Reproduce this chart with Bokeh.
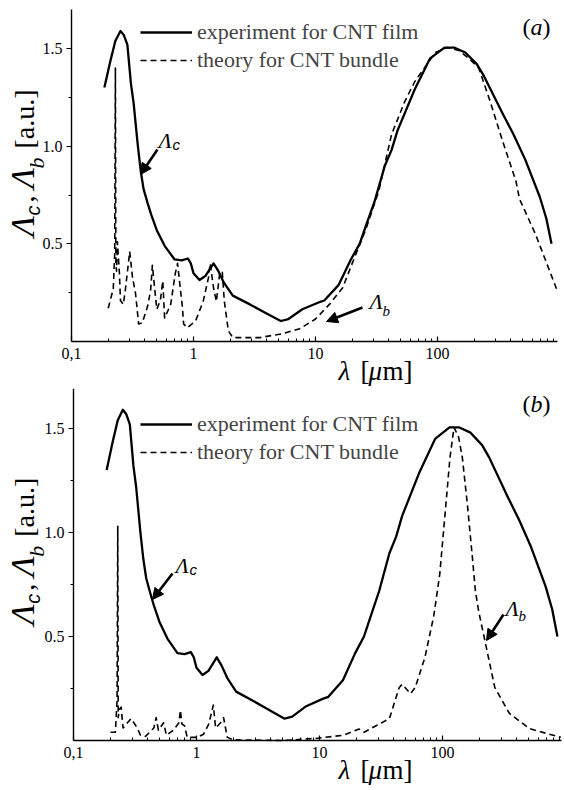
import math
from bokeh.plotting import figure
from bokeh.models import (Range1d, FixedTicker, CustomJSTickFormatter, Label, Arrow,
                          NormalHead, Legend, LegendItem)
from bokeh.layouts import column
from bokeh.embed import file_html
from bokeh.resources import INLINE

# ---------------- data ----------------
exp_x = [0.186, 0.209, 0.229, 0.252, 0.268, 0.287, 0.307, 0.323, 0.35, 0.37, 0.39, 0.42,
         0.45, 0.5, 0.58, 0.7, 0.8, 0.9, 0.95, 1.0, 1.12, 1.25, 1.46, 1.6, 1.78, 2.1,
         2.9, 3.8, 5.2, 6.0, 7.8, 10.6, 11.8, 15.5, 19.5, 23, 25.5, 30.6, 37, 42, 47,
         65, 87, 114, 137, 169, 210, 240, 340, 420, 525, 690, 780, 860]
exp_y = [1.30, 1.44, 1.54, 1.59, 1.57, 1.52, 1.32, 1.22, 1.0, 0.87, 0.78, 0.71,
         0.65, 0.57, 0.49, 0.42, 0.415, 0.425, 0.40, 0.35, 0.315, 0.335, 0.40, 0.36, 0.30, 0.235,
         0.19, 0.15, 0.105, 0.115, 0.165, 0.20, 0.21, 0.29, 0.42, 0.50, 0.58, 0.72, 0.90, 0.98, 1.08,
         1.29, 1.45, 1.505, 1.505, 1.48, 1.42, 1.36, 1.17, 1.06, 0.93, 0.74, 0.63, 0.50]

theory_a_x = [0.20, 0.22, 0.226, 0.229, 0.231, 0.234, 0.238, 0.247, 0.252, 0.266, 0.277, 0.30,
              0.316, 0.335, 0.355, 0.38, 0.42, 0.445, 0.46, 0.48, 0.50, 0.535, 0.56, 0.58,
              0.65, 0.71, 0.74, 0.78, 0.81, 0.83, 0.89, 1.04, 1.2, 1.33, 1.37, 1.46, 1.54,
              1.64, 1.72, 1.79, 1.93, 2.1, 3.5, 5.35, 7.4, 10, 13, 16.7, 20, 25.7, 33, 42,
              54, 65, 96, 120, 150, 180, 218, 270, 340, 440, 470, 635, 945]
theory_a_y = [0.17, 0.27, 0.45, 1.40, 0.40, 0.36, 0.51, 0.35, 0.21, 0.19, 0.27, 0.46,
              0.33, 0.245, 0.09, 0.095, 0.18, 0.26, 0.39, 0.275, 0.165, 0.21, 0.31, 0.12,
              0.19, 0.35, 0.40, 0.27, 0.18, 0.09, 0.07, 0.105, 0.205, 0.33, 0.40, 0.275, 0.205,
              0.35, 0.36, 0.205, 0.055, 0.02, 0.02, 0.04, 0.065, 0.115, 0.19, 0.275, 0.40, 0.57, 0.77, 1.06,
              1.23, 1.33, 1.48, 1.505, 1.49, 1.45, 1.40, 1.23, 1.03, 0.82, 0.73, 0.55, 0.27]

theory_b_x = [0.20, 0.219, 0.226, 0.229, 0.231, 0.236, 0.244, 0.253, 0.27, 0.294, 0.31, 0.33,
              0.35, 0.385, 0.45, 0.47, 0.49, 0.54, 0.57, 0.65, 0.72, 0.74, 0.76, 0.80, 0.84,
              1.01, 1.14, 1.26, 1.37, 1.43, 1.57, 1.66, 1.78, 2.0, 5.0, 9.3, 15.5, 21, 23,
              37, 44.5, 47, 55, 60, 72, 85, 95, 106, 115, 124, 135, 145, 159, 175, 185, 197,
              223, 266, 350, 510, 915]
theory_b_y = [0.04, 0.04, 0.19, 1.03, 0.11, 0.15, 0.16, 0.06, 0.08, 0.105, 0.085, 0.06,
              0.025, 0.02, 0.06, 0.11, 0.05, 0.085, 0.025, 0.05, 0.085, 0.145, 0.08, 0.07, 0.015,
              0.015, 0.03, 0.08, 0.17, 0.06, 0.085, 0.11, 0.015, 0.003, 0.0, 0.01, 0.025, 0.055, 0.04,
              0.105, 0.255, 0.27, 0.225, 0.255, 0.40, 0.60, 0.80, 1.12, 1.36, 1.505, 1.46, 1.36, 1.14, 0.88, 0.72, 0.62,
              0.47, 0.255, 0.13, 0.057, 0.015]

x_major = [0.1, 1, 10, 100]
x_minor = [m * d for d in (0.1, 1, 10, 100) for m in range(2, 10)]
y_major = [0.5, 1.0, 1.5]
y_minor = [0.25, 0.75, 1.25]
y_bounds = (0.0, 1.7)
legend_labels = ["experiment for CNT film", "theory for CNT bundle"]

SERIF = "Liberation Serif, Times New Roman, serif"
SANS = "Liberation Sans, Arial, sans-serif"
W = 564
MID = 0.32  # distance from baseline to the text's middle, in em


def make_panel(th_x, th_y, tag, canvas_top, height, x01_px, ppd, y0_px, ppu, x_hi, leg_top):
    """Layout in page pixels: x01_px = page x of 0.1, ppd = px per decade,
    y0_px = page y of zero, ppu = px per unit."""
    x_start = 0.1 * 10 ** (-x01_px / ppd)
    x_end = 0.1 * 10 ** ((W - x01_px) / ppd)
    y0_local = y0_px - canvas_top
    y_end = y0_local / ppu
    y_start = -(height - y0_local) / ppu

    p = figure(width=W, height=height, x_axis_type="log",
               x_range=Range1d(x_start, x_end), y_range=Range1d(y_start, y_end),
               output_backend="svg", toolbar_location=None, min_border=0)
    p.outline_line_color = None
    p.grid.visible = False
    p.background_fill_color = "white"
    p.border_fill_color = "white"

    xa = p.xaxis[0]
    xa.fixed_location = 0.0
    xa.bounds = (0.1, x_hi)
    xa.ticker = FixedTicker(ticks=x_major, minor_ticks=x_minor)
    xa.formatter = CustomJSTickFormatter(code="return tick < 0.5 ? '0,1' : tick.toFixed(0);")
    xa.major_tick_in = 5
    xa.major_tick_out = 0
    xa.minor_tick_in = 3
    xa.minor_tick_out = 0
    xa.major_label_standoff = 6
    ya = p.yaxis[0]
    ya.fixed_location = 0.1
    ya.bounds = y_bounds
    ya.ticker = FixedTicker(ticks=y_major, minor_ticks=y_minor)
    ya.formatter = CustomJSTickFormatter(code="return tick.toFixed(1);")
    ya.major_tick_in = 0
    ya.major_tick_out = 5
    ya.minor_tick_in = 0
    ya.minor_tick_out = 3
    ya.major_label_standoff = 4
    for ax in (xa, ya):
        ax.axis_line_color = "black"
        ax.axis_line_width = 1.4
        ax.major_tick_line_color = "black"
        ax.minor_tick_line_color = "black"
        ax.major_tick_line_width = 1.2
        ax.minor_tick_line_width = 1
        ax.major_label_text_font = SERIF
        ax.major_label_text_font_size = "16px"
        ax.major_label_text_color = "black"

    r1 = p.line(exp_x, exp_y, line_color="black", line_width=2.3, line_join="round")
    r2 = p.line(th_x, th_y, line_color="black", line_width=1.6, line_dash="6 4",
                line_join="round")

    cb = canvas_top + height  # page y of canvas bottom

    def sx(px):
        return px

    def sy(py):
        return cb - py

    leg = Legend(items=[LegendItem(label=legend_labels[0], renderers=[r1]),
                        LegendItem(label=legend_labels[1], renderers=[r2])],
                 location=(sx(140), sy(leg_top + 56)),
                 orientation="vertical", padding=0, margin=0, spacing=0,
                 glyph_width=52, glyph_height=28, label_height=28, label_standoff=5,
                 label_text_font=SERIF, label_text_font_size="22px",
                 border_line_color=None, background_fill_alpha=0)
    p.add_layout(leg)

    def txt(s, px, py, size, font=SERIF, style="normal", rotated=False):
        # (px, py) is the start of the baseline in page pixels
        if rotated:
            ax_, ay_ = px - MID * size, py
        else:
            ax_, ay_ = px, py - MID * size
        p.add_layout(Label(x=sx(ax_), y=sy(ay_), x_units="screen", y_units="screen", text=s,
                           text_font=font, text_font_size=f"{size}px", text_font_style=style,
                           text_color="black", text_align="left", text_baseline="middle",
                           angle=(math.pi / 2 if rotated else 0.0), angle_units="rad"))

    # y-axis label (rotated, reads upwards), slightly above the data-area centre
    s0 = y0_px - 0.5 * 1.7 * ppu + 61  # page y where the label starts
    txt("Λ", 33, s0, 34, style="italic", rotated=True)
    txt("c", 39, s0 - 21, 20, font=SANS, style="italic", rotated=True)
    txt(",", 33, s0 - 34, 28, rotated=True)
    txt("Λ", 33, s0 - 48, 34, style="italic", rotated=True)
    txt("b", 43, s0 - 68, 22, style="italic", rotated=True)
    txt("[a.u.]", 33, s0 - 88, 28, rotated=True)

    # x-axis label
    base = y0_px + 38
    txt("λ", 338, base, 27, style="italic")
    txt("[", 360, base, 27)
    txt("μ", 368, base, 27, style="italic")
    txt("m]", 382, base, 27)

    # panel tag
    tb = y0_px - 1.7 * ppu + 25
    txt("(", 522, tb, 24)
    txt(tag, 530, tb, 24, style="italic")
    txt(")", 542, tb, 24)
    return p, txt, sx, sy


def arrow(p, sx, sy, x0, y0, x1, y1):
    p.add_layout(Arrow(end=NormalHead(size=11, fill_color="black", line_color="black"),
                       x_start=sx(x0), y_start=sy(y0), x_end=sx(x1), y_end=sy(y1),
                       start_units="screen", end_units="screen",
                       line_color="black", line_width=2.6))


# panel (a): canvas page y 0..388
pa, ta, sxa, sya = make_panel(theory_a_x, theory_a_y, "a", 0, 388, 71, 122, 341, 195.3, 960, 18)
ta("Λ", 158, 147, 22, style="italic")
ta("c", 172, 149, 15, font=SANS, style="italic")
arrow(pa, sxa, sya, 157, 149, 140, 174)
ta("Λ", 369, 308, 22, style="italic")
ta("b", 382, 315, 15, style="italic")
arrow(pa, sxa, sya, 362, 307, 326, 321)

# panel (b): canvas page y 388..790
pb, tb_, sxb, syb = make_panel(theory_b_x, theory_b_y, "b", 388, 402, 73, 123, 740, 208, 930, 410)
tb_("Λ", 175, 572, 22, style="italic")
tb_("c", 189, 574, 15, font=SANS, style="italic")
arrow(pb, sxb, syb, 172, 573, 152, 599)
tb_("Λ", 505, 615, 22, style="italic")
tb_("b", 518, 620, 15, style="italic")
arrow(pb, sxb, syb, 503, 614, 486, 640)

layout = column(pa, pb, spacing=0)
open("out.html", "w").write(file_html(layout, INLINE))
